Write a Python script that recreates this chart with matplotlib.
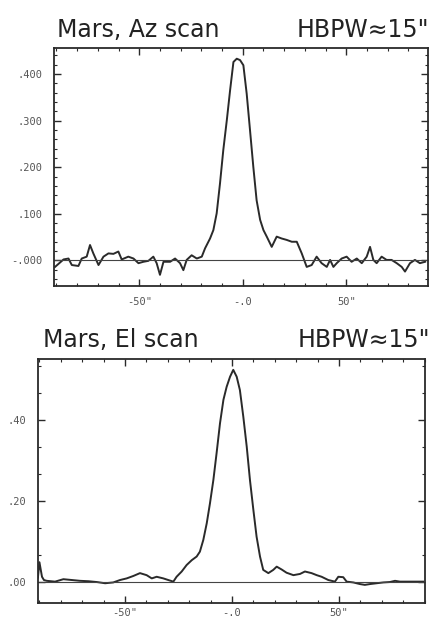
import matplotlib
matplotlib.use('Agg')
import matplotlib.pyplot as plt
from matplotlib.ticker import MultipleLocator
import numpy as np

# Az scan (offset in arcsec, relative signal)
az_offset = [-90.7, -86.6, -84.2, -82.6, -79.4, -77.8, -75.4, -73.8, -72.2, -69.7,
             -67.3, -64.9, -62.5, -60.1, -58.5, -55.3, -52.8, -50.4, -48.0, -45.6,
             -43.2, -41.6, -40.0, -38.3, -35.1, -32.7, -30.3, -28.7, -27.1, -24.7,
             -22.2, -19.8, -18.2, -15.8, -14.2, -12.6, -11.0, -9.4, -7.7, -6.1,
             -4.5, -2.9, -1.3, 0.3, 1.9, 3.5, 5.1, 6.7, 8.4, 10.0,
             11.6, 14.0, 16.4, 18.8, 21.2, 23.7, 26.1, 28.5, 30.9, 33.3,
             35.7, 38.1, 40.6, 42.2, 43.8, 45.4, 47.8, 50.2, 52.6, 55.1,
             57.5, 59.9, 61.5, 63.1, 64.7, 67.1, 69.5, 71.9, 74.4, 76.8,
             78.4, 80.8, 83.2, 85.6, 88.1]
az_signal = [-0.014, 0.002, 0.004, -0.010, -0.012, 0.004, 0.008, 0.033, 0.015, -0.010,
             0.008, 0.015, 0.014, 0.019, 0.002, 0.008, 0.004, -0.006, -0.003, -0.001,
             0.008, -0.006, -0.031, -0.003, -0.003, 0.004, -0.006, -0.021, 0.001, 0.011,
             0.004, 0.008, 0.026, 0.047, 0.065, 0.101, 0.165, 0.237, 0.301, 0.366,
             0.426, 0.433, 0.430, 0.419, 0.358, 0.280, 0.201, 0.129, 0.087, 0.065,
             0.051, 0.029, 0.051, 0.047, 0.044, 0.040, 0.040, 0.015, -0.014, -0.010,
             0.008, -0.006, -0.014, 0.001, -0.014, -0.006, 0.004, 0.008, -0.003, 0.004,
             -0.006, 0.008, 0.029, 0.001, -0.006, 0.008, 0.001, 0.001, -0.006, -0.014,
             -0.024, -0.006, 0.001, -0.006, -0.003]

# El scan
el_offset = [-90.7, -90.0, -88.8, -87.9, -86.6, -82.7, -78.8, -74.9, -71.0, -67.1,
             -63.2, -59.3, -55.5, -52.3, -49.2, -46.1, -43.0, -39.9, -37.5, -35.2,
             -32.1, -29.8, -27.4, -25.9, -23.5, -21.2, -18.8, -16.5, -15.0, -13.4,
             -11.8, -10.3, -8.7, -7.2, -5.6, -4.0, -2.5, -0.9, 0.6, 2.2,
             3.7, 5.3, 6.9, 8.4, 10.0, 11.5, 13.1, 14.6, 17.0, 19.3,
             20.9, 23.2, 25.5, 28.7, 31.8, 34.1, 37.2, 39.6, 41.9, 45.0,
             48.1, 49.7, 52.0, 53.6, 56.7, 59.8, 62.1, 64.5, 67.6, 70.7,
             73.8, 76.2, 78.5, 81.6, 85.5, 89.4]
el_signal = [0.010, 0.048, 0.012, 0.004, 0.002, 0.000, 0.006, 0.004, 0.002, 0.001,
             -0.001, -0.004, -0.002, 0.004, 0.008, 0.014, 0.021, 0.016, 0.008, 0.012,
             0.008, 0.004, 0.000, 0.012, 0.025, 0.041, 0.053, 0.062, 0.074, 0.103,
             0.144, 0.193, 0.251, 0.317, 0.391, 0.449, 0.481, 0.506, 0.523, 0.506,
             0.473, 0.407, 0.333, 0.251, 0.177, 0.111, 0.062, 0.029, 0.021, 0.029,
             0.037, 0.030, 0.022, 0.016, 0.019, 0.025, 0.021, 0.016, 0.012, 0.004,
             0.000, 0.012, 0.011, 0.000, -0.002, -0.006, -0.008, -0.006, -0.004, -0.002,
             -0.001, 0.002, 0.000, 0.000, 0.000, 0.000]

x_ticks = [-50, 0, 50]
x_labels = ['-50"', '-.0', '50"']
az_yticks = [0.0, 0.1, 0.2, 0.3, 0.4]
az_ylabels = ['-.000', '.100', '.200', '.300', '.400']
el_yticks = [0.0, 0.2, 0.4]
el_ylabels = ['.00', '.20', '.40']

ink = '#2a2a2a'


def style_axes(ax, xlim, ylim, yminor):
    ax.set_xlim(*xlim)
    ax.set_ylim(*ylim)
    ax.axhline(0, color='#444444', lw=0.8)
    ax.xaxis.set_minor_locator(MultipleLocator(10))
    ax.yaxis.set_minor_locator(MultipleLocator(yminor))
    ax.tick_params(which='both', direction='in', top=True, right=True, colors=ink)
    ax.tick_params(which='major', length=5, width=1.0, pad=8)
    ax.tick_params(which='minor', length=2.5, width=0.8)
    for s in ax.spines.values():
        s.set_linewidth(1.3)
        s.set_color(ink)
    for lab in ax.get_xticklabels() + ax.get_yticklabels():
        lab.set_fontfamily('DejaVu Sans Mono')
        lab.set_fontsize(7.5)
        lab.set_color('#555555')


fig = plt.figure(figsize=(4.31, 6.25), dpi=100)

ax1 = fig.add_axes([0.1253, 0.5424, 0.8677, 0.3808])
ax1.plot(az_offset, az_signal, color=ink, lw=1.4)
ax1.set_xticks(x_ticks, x_labels)
ax1.set_yticks(az_yticks, az_ylabels)
style_axes(ax1, (-91.2, 89.5), (-0.055, 0.456), 0.02)

ax2 = fig.add_axes([0.0875, 0.0357, 0.8985, 0.3894])
ax2.plot(el_offset, el_signal, color=ink, lw=1.4)
ax2.set_xticks(x_ticks, x_labels)
ax2.set_yticks(el_yticks, el_ylabels)
style_axes(ax2, (-90.8, 90.2), (-0.052, 0.549), 0.2 / 3)
ax2.tick_params(axis='x', which='major', pad=4)

title_font = dict(family='DejaVu Sans', size=17, color='#222222')
fig.text(0.132, 0.941, 'Mars, Az scan', ha='left', va='baseline', **title_font)
fig.text(0.995, 0.941, 'HBPW\u224815"', ha='right', va='baseline', **title_font)
fig.text(0.100, 0.4453, 'Mars, El scan', ha='left', va='baseline', **title_font)
fig.text(0.997, 0.4453, 'HBPW\u224815"', ha='right', va='baseline', **title_font)

fig.savefig('out.png', dpi=100, facecolor='white')
